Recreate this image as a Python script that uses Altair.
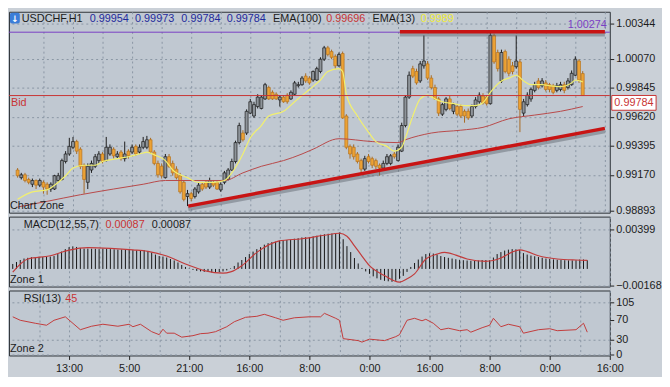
import altair as alt
import pandas as pd

# ---------------- data (prices in 1e-5 units) ----------------
opens = [99208,99149,99171,99135,99098,99127,99091,99113,99098,99061,
         99061,99127,99135,99274,99332,99384,99428,99369,99245,99113,
         99208,99237,99281,99332,99281,99332,99369,99311,99347,99296,
         99354,99347,99391,99347,99384,99384,99442,99347,99259,99237,
         99149,99311,99259,99215,99164,99113,99003,99025,99003,99039,
         99098,99113,99076,99113,99113,99054,99113,99135,99208,99274,
         99420,99494,99494,99648,99626,99699,99684,99758,99846,99809,
         99794,99750,99772,99787,99758,99794,99860,99868,99934,99919,
         99904,99904,99970,100065,100153,100124,100087,100014,100109,99626,
         99391,99384,99332,99281,99215,99311,99296,99281,99245,99223,
         99259,99259,99332,99281,99354,99552,99772,99992,99970,99897,
         100014,100029,99919,99846,99758,99640,99677,99758,99662,99699,
         99699,99662,99662,99626,99699,99736,99780,99772,99721,100249,
         100117,99897,100124,100065,100014,100007,100044,99648,99714,99758,
         99824,99897,99860,99882,99868,99860,99824,99831,99868,99846,
         99868,99941,100051,99954]
highs = [99223,99186,99186,99149,99142,99135,99142,99127,99113,99113,
         99171,99186,99296,99354,99457,99464,99442,99384,99259,99259,
         99281,99332,99354,99347,99464,99406,99384,99354,99362,99428,
         99369,99406,99406,99406,99464,99472,99457,99362,99281,99259,
         99332,99332,99281,99237,99186,99127,99054,99039,99076,99113,
         99113,99127,99149,99127,99127,99113,99201,99223,99296,99435,
         99574,99516,99677,99758,99736,99794,99787,99882,99860,99824,
         99809,99787,99787,99802,99824,99897,99890,99934,99956,99934,
         99978,100007,100080,100168,100168,100139,100102,100117,100124,99640,
         99406,99406,99347,99296,99318,99332,99311,99296,99259,99281,
         99332,99332,99347,99406,99574,99787,99970,100014,99992,100051,
         100249,100051,99941,99868,99772,99728,99772,99780,99728,99721,
         99714,99677,99684,99714,99772,99809,99802,99787,100271,100263,
         100139,100139,100139,100087,100044,100249,100065,99758,99809,99846,
         99890,99919,99919,99904,99882,99875,99882,99890,99890,99919,
         99978,100087,100065,99973]
lows = [99149,99135,99113,99098,99076,99061,99076,99025,99017,99039,
        99054,99113,99127,99259,99318,99369,99332,99215,99025,99061,
        99186,99223,99259,99259,99274,99318,99296,99296,99281,99274,
        99296,99332,99318,99332,99369,99369,99332,99245,99149,99142,
        99142,99223,99164,99135,99025,98966,98929,98966,98988,99025,
        99047,99061,99061,99076,99054,99039,99098,99127,99201,99259,
        99406,99428,99479,99640,99611,99684,99677,99750,99750,99750,
        99750,99699,99728,99721,99750,99787,99846,99860,99882,99868,
        99890,99897,99956,100051,100087,100065,99992,100007,99604,99369,
        99296,99289,99259,99186,99201,99259,99223,99215,99164,99208,
        99245,99245,99296,99274,99347,99538,99758,99919,99868,99882,
        99992,99904,99831,99750,99626,99626,99662,99670,99640,99626,
        99611,99574,99596,99611,99684,99721,99714,99706,99714,100029,
        99970,99882,99956,99934,99948,99992,99501,99626,99699,99736,
        99809,99831,99846,99816,99809,99794,99809,99816,99802,99831,
        99860,99934,99882,99784]
closes = [99164,99171,99127,99113,99127,99091,99127,99076,99061,99098,
          99164,99164,99281,99332,99391,99428,99354,99237,99135,99237,
          99259,99311,99332,99274,99384,99384,99318,99332,99296,99332,
          99318,99384,99332,99384,99428,99442,99347,99259,99171,99164,
          99311,99237,99186,99149,99039,98981,99025,98988,99061,99091,
          99061,99076,99127,99091,99061,99098,99186,99208,99274,99420,
          99552,99442,99662,99736,99714,99772,99772,99868,99758,99758,
          99758,99772,99736,99736,99809,99882,99868,99919,99897,99882,
          99970,99992,100065,100153,100102,100080,100014,100102,99611,99384,
          99332,99311,99274,99215,99296,99274,99245,99237,99223,99259,
          99311,99318,99311,99384,99552,99772,99941,99934,99882,100029,
          100051,99919,99846,99758,99648,99714,99758,99684,99714,99640,
          99626,99626,99611,99699,99750,99787,99728,99721,100249,100044,
          99992,100117,99970,99956,99970,100051,99677,99736,99787,99831,
          99868,99846,99897,99831,99831,99809,99860,99868,99824,99897,
          99956,100065,99904,99784]

ema13_bar = [0,4,8,10,13,15,18,21,23,27,30,34,35,37,40,42,46,49,53,56,
             58,61,63,66,68,72,75,79,82,84,87,88,89,92,95,97,100,102,104,105,
             107,109,111,113,115,118,121,124,126,128,131,133,135,137,139,142,144,147,150,151,153]
ema13_val = [98981,99039,99054,99091,99164,99223,99245,99245,99274,99296,
             99311,99340,99347,99325,99281,99208,99149,99113,99113,99127,
             99186,99332,99457,99552,99626,99662,99736,99831,99904,99970,
             99992,99970,99794,99626,99501,99428,99391,99354,99384,99457,
             99626,99758,99787,99758,99736,99721,99706,99706,99728,99809,
             99897,99919,99941,99897,99868,99868,99860,99853,99882,99904,99890]
ema100_bar = [0,8,17,26,34,40,48,56,61,66,72,77,80,87,96,103,105,112,120,126,133,140,147,153]
ema100_val = [98922,98966,99017,99061,99098,99127,99127,99127,99186,99237,99281,99332,
              99369,99450,99428,99420,99442,99494,99516,99538,99604,99633,99662,99699]

# MACD histogram (1e-5 units), one per bar
macd_hist = [50,70,90,105,112,118,120,122,120,122,
             125,130,150,175,200,220,228,222,210,205,
             205,204,203,200,205,204,200,198,195,196,
             194,193,190,188,190,188,180,165,145,130,
             125,115,100,85,65,40,20,5,-10,-20,
             -25,-30,-30,-35,-35,-32,-25,-15,5,30,
             65,90,120,150,175,200,220,245,260,270,
             275,285,290,292,295,305,310,318,320,322,
             328,335,345,350,355,358,360,368,300,230,
             170,110,55,10,-25,-50,-75,-95,-110,-120,
             -125,-130,-120,-100,-70,-30,20,60,95,125,
             150,158,155,145,130,120,112,105,98,92,
             88,85,82,82,85,90,90,88,115,150,
             170,185,195,200,198,192,160,145,135,128,
             120,112,105,100,96,92,90,88,86,86,
             88,95,95,87]
sig_bar = [0,4,10,15,20,26,32,36,41,46,51,56,58,61,65,71,77,83,87,89,
           91,93,95,99,103,105,107,110,113,115,118,121,126,130,133,135,137,140,145,150,153]
sig_val = [-33,100,133,190,215,208,193,178,130,50,-17,-43,-30,33,167,283,305,340,360,330,
           233,130,33,-67,-133,-100,-50,100,150,167,140,100,77,110,170,193,175,133,100,90,87]

rsi_bar = [0,2,6,9,11,14,18,21,24,28,31,32,34,37,39,40,41,43,45,48,
           50,52,54,57,59,62,65,67,70,72,75,79,82,83,86,87,88,92,93,95,
           99,102,103,105,107,109,110,112,114,116,119,121,122,125,127,128,130,132,135,136,
           140,143,145,150,152,153]
rsi_val = [76,69,63,59,69,76,50,57,61,57,61,56,61,46,40,51,43,43,35,38,
           42,43,46,56,66,75,77,81,74,69,74,76,76,83,73,69,32,28,25,31,
           28,36,40,69,73,68,71,63,50,53,48,50,45,54,59,73,56,61,56,43,
           50,52,48,50,63,45]

trend_bar = [46.2, 159]
trend_val = [98929, 99530]
res_bar = [103.5, 159]
res_val = [100278, 100278]
purple_level = 1.00274
bid_level = 0.99784

time_labels = ['13:00', '5:00', '21:00', '16:00', '8:00', '0:00', '16:00', '8:00', '0:00', '16:00']
price_ticks = [0.98893, 0.99170, 0.99395, 0.99620, 0.99845, 1.00070, 1.00344]
macd_ticks = [0.00399, -0.00168]
rsi_ticks = [0, 30, 70, 105]

# ---------------- build tables ----------------
S = 1e5
n = len(opens)
cand = pd.DataFrame({
    'i': list(range(n)),
    'o': [v / S for v in opens],
    'h': [v / S for v in highs],
    'l': [v / S for v in lows],
    'c': [v / S for v in closes],
})
cand['dir'] = ['bull' if c >= o else 'bear' for o, c in zip(cand['o'], cand['c'])]
cand['m'] = [v / S for v in macd_hist]

ema13 = pd.DataFrame({'i': ema13_bar, 'v': [v / S for v in ema13_val]})
ema100 = pd.DataFrame({'i': ema100_bar, 'v': [v / S for v in ema100_val]})
sig = pd.DataFrame({'i': sig_bar, 'v': [v / S for v in sig_val]})
rsi = pd.DataFrame({'i': rsi_bar, 'v': rsi_val})
trend = pd.DataFrame({'i': trend_bar, 'v': [v / S for v in trend_val]})
res = pd.DataFrame({'i': res_bar, 'v': [v / S for v in res_val]})
one = pd.DataFrame({'k': [0]})

# ---------------- style ----------------
W = 610
H_MAIN = 204
FONT = 'Liberation Sans'
GRID = '#8995a4'
TXT = '#1c1c1c'
RED = '#c83434'

grid_vals = list(range(7, 160, 8))
lab_expr = ("datum.value % 16 == 15 ? " + str(time_labels) +
            "[(datum.value - 15) / 16] : ''")

xsc = alt.Scale(domain=[-1, 159], nice=False, zero=False)
xax_top = alt.Axis(values=grid_vals, labels=False, ticks=False, domain=False,
                   grid=True, gridDash=[2, 3], gridColor=GRID, title=None)
xax_bot = alt.Axis(values=grid_vals, labelExpr=lab_expr, ticks=True, tickSize=4,
                   tickColor={'condition': {'test': 'datum.value % 16 == 15', 'value': '#222222'},
                              'value': 'transparent'},
                   domain=False, grid=True, gridDash=[2, 3], gridColor=GRID, title=None,
                   labelFlush=False, labelOverlap=False, labelPadding=3)


def yaxis(vals, fmt, gridcolor=GRID):
    return alt.Axis(values=vals, format=fmt, orient='right', grid=True,
                    gridDash=[2, 3], gridColor=gridcolor, tickSize=4, tickColor='#222',
                    domain=False, labelPadding=2, title=None)


def label(txt, x, y, color=TXT, size=11, align='left', font=FONT, weight='normal'):
    return alt.Chart(one).mark_text(text=txt, align=align, baseline='middle', font=font,
                                    fontSize=size, color=color, fontWeight=weight).encode(
        x=alt.value(x), y=alt.value(y))


# ---------------- main panel ----------------
ysc = alt.Scale(domain=[0.98878, 1.00432], nice=False, zero=False)
yax = yaxis(price_ticks, '.5f')
X = lambda xa: alt.X('i:Q', scale=xsc, axis=xa)

wicks = alt.Chart(cand).mark_rule(strokeWidth=1).encode(
    x=X(xax_top), y=alt.Y('l:Q', scale=ysc, axis=yax), y2='h:Q',
    color=alt.Color('dir:N', scale=alt.Scale(domain=['bull', 'bear'], range=['#1b1b1b', '#a86a22']),
                    legend=None))
bodies = alt.Chart(cand).mark_bar(size=3, strokeWidth=0.7).encode(
    x=X(xax_top), y=alt.Y('o:Q', scale=ysc, axis=yax), y2='c:Q',
    fill=alt.Fill('dir:N', scale=alt.Scale(domain=['bull', 'bear'], range=['#8e949a', '#eca234']),
                  legend=None),
    stroke=alt.Stroke('dir:N', scale=alt.Scale(domain=['bull', 'bear'], range=['#1b1b1b', '#b6731f']),
                      legend=None))
l100 = alt.Chart(ema100).mark_line(color='#b84848', strokeWidth=1, interpolate='monotone').encode(
    x=X(xax_top), y=alt.Y('v:Q', scale=ysc, axis=yax))
l13 = alt.Chart(ema13).mark_line(color='#f2f06e', strokeWidth=1.2, interpolate='monotone').encode(
    x=X(xax_top), y=alt.Y('v:Q', scale=ysc, axis=yax))
bid = alt.Chart(pd.DataFrame({'v': [bid_level]})).mark_rule(color=RED, strokeWidth=1).encode(
    y=alt.Y('v:Q', scale=ysc, axis=yax))
purple = alt.Chart(pd.DataFrame({'v': [purple_level]})).mark_rule(color='#7a3fc4', strokeWidth=1).encode(
    y=alt.Y('v:Q', scale=ysc, axis=yax))


def tline(df):
    sh = alt.Chart(df).mark_line(color='#5a616b', strokeWidth=4, opacity=0.45, yOffset=3).encode(
        x=X(xax_top), y=alt.Y('v:Q', scale=ysc, axis=yax))
    ln = alt.Chart(df).mark_line(color='#c81414', strokeWidth=3.5).encode(
        x=X(xax_top), y=alt.Y('v:Q', scale=ysc, axis=yax))
    return [sh, ln]


main_txt = [
    alt.Chart(one).mark_rect(fill='#3b7dd8', cornerRadius=2).encode(
        x=alt.value(1), x2=alt.value(11), y=alt.value(1), y2=alt.value(12)),
    label('↓', 6, 7, 'white', 9, 'center', 'DejaVu Sans', 'bold'),
    label('USDCHF,H1', 13, 7),
    label('0.99954', 82, 7, '#1f2a9c'),
    label('0.99973', 128, 7, '#1f2a9c'),
    label('0.99784', 175, 7, '#1f2a9c'),
    label('0.99784', 221, 7, '#1f2a9c'),
    label('EMA(100)', 268, 7),
    label('0.99696', 322, 7, RED),
    label('EMA(13)', 369, 7),
    label('0.9989', 418, 7, '#f0ec3a'),
    label('1.00274', 607, 13.5, '#7a3fc4', 11, 'right'),
    label('Bid', 2, 93, RED),
    label('Chart Zone', 1, 197),
    alt.Chart(one).mark_rect(fill='white', stroke=RED, strokeWidth=1).encode(
        x=alt.value(612), x2=alt.value(657), y=alt.value(85), y2=alt.value(100)),
    label('0.99784', 634.5, 92.5, RED, 11, 'center'),
]

main = alt.layer(wicks, bodies, l100, l13, bid, purple, *tline(trend), *tline(res),
                 *main_txt).properties(width=W, height=H_MAIN)

# ---------------- MACD panel ----------------
msc = alt.Scale(domain=[-0.00178, 0.00528], nice=False, zero=False)
max_ = yaxis(macd_ticks, '.5f')
hist = alt.Chart(cand).mark_rule(color='#141414', strokeWidth=1).encode(
    x=X(xax_top), y=alt.Y('m:Q', scale=msc, axis=max_), y2=alt.datum(0))
sigl = alt.Chart(sig).mark_line(color='#c23b3b', strokeWidth=1.2, interpolate='monotone').encode(
    x=X(xax_top), y=alt.Y('v:Q', scale=msc, axis=max_))
macd = alt.layer(
    hist, sigl,
    label('MACD(12,55,7)', 15, 9),
    label('0.00087', 98, 9, RED),
    label('0.00087', 145, 9),
    label('Zone 1', 1, 64),
).properties(width=W, height=71)

# ---------------- RSI panel ----------------
rsc = alt.Scale(domain=[-2, 129], nice=False, zero=False)
rax = yaxis(rsi_ticks, 'd',
            {'condition': {'test': 'datum.value == 70', 'value': 'transparent'}, 'value': GRID})
rsil = alt.Chart(rsi).mark_line(color='#c23b3b', strokeWidth=1).encode(
    x=X(xax_bot), y=alt.Y('v:Q', scale=rsc, axis=rax))
rsip = alt.layer(
    rsil,
    label('RSI(13)', 15, 9),
    label('45', 57, 9, RED),
    label('Zone 2', 1, 59),
).properties(width=W, height=66)

chart = alt.vconcat(main, macd, rsip, spacing=4, bounds='flush').resolve_scale(
    x='independent', y='independent', color='independent', fill='independent',
    stroke='independent').properties(
    padding={'left': 0, 'right': 0, 'top': 0, 'bottom': 0},
    background='#cad0d7'
).configure_view(
    fill='#c0c8d1', stroke='#2e3338', strokeWidth=1
).configure_axis(
    labelFont=FONT, labelFontSize=11, labelColor=TXT
)

chart.save('out.html', embed_options={'renderer': 'svg', 'actions': False})
